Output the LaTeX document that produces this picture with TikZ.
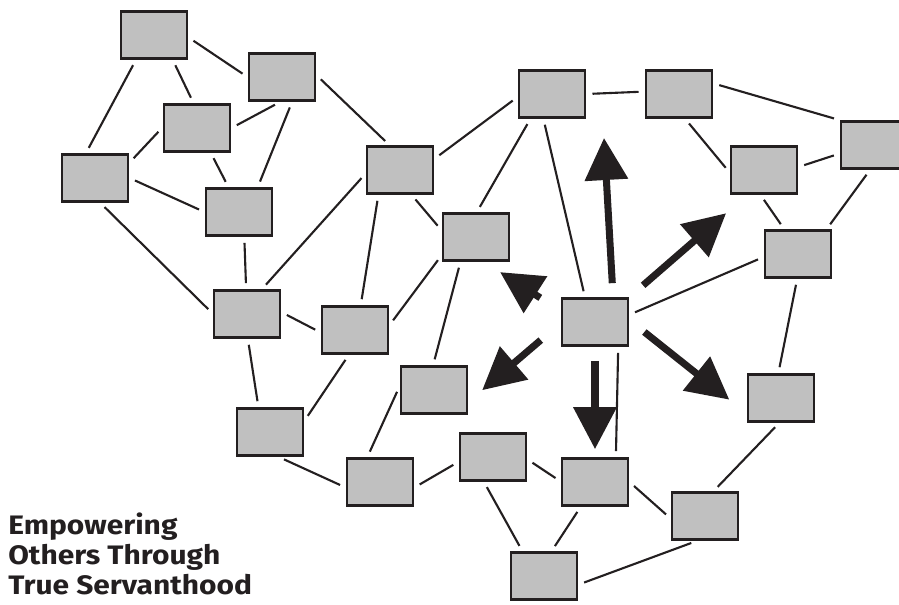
\documentclass[tikz,border=0pt]{standalone}
\usepackage{fontspec}
\usetikzlibrary{arrows.meta}
\newfontfamily\titlefont{Fira Sans}[FakeStretch=1.12]
\definecolor{boxgray}{HTML}{C0C0C0}
\definecolor{ink}{HTML}{231F20}

\begin{document}
\begin{tikzpicture}[x=0.025cm,y=-0.025cm,
    box/.style={draw=ink,fill=boxgray,line width=2.1pt,minimum width=1.65cm,minimum height=1.17cm,inner sep=0pt},
    wire/.style={draw=ink,line width=1.5pt,shorten <=0.15cm,shorten >=0.15cm},
    bigarrow/.style={draw=ink,line width=5pt,-{Triangle[length=1.05cm,width=1.05cm]}}]
            \useasboundingbox (0,0) rectangle (899,604);
            \node [box] (n1) at (154,35) {};
            \node [box] (n2) at (282,77) {};
            \node [box] (n3) at (197,128) {};
            \node [box] (n4) at (95,178) {};
            \node [box] (n5) at (239,212) {};
            \node [box] (n6) at (400,170) {};
            \node [box] (n7) at (247,314) {};
            \node [box] (n8) at (552,94) {};
            \node [box] (n9) at (679,94) {};
            \node [box] (n10) at (874,145) {};
            \node [box] (n11) at (764,170) {};
            \node [box] (n12) at (798,254) {};
            \node [box] (n13) at (476,237) {};
            \node [box] (hub) at (595,322) {};
            \node [box] (n14) at (355,330) {};
            \node [box] (n15) at (434,390) {};
            \node [box] (n16) at (270,432) {};
            \node [box] (n17) at (493,457) {};
            \node [box] (n18) at (380,482) {};
            \node [box] (n19) at (595,482) {};
            \node [box] (n20) at (544,576) {};
            \node [box] (n21) at (781,398) {};
            \node [box] (n22) at (705,516) {};
            \coordinate (upTip) at (604,138);
            \draw [wire] (n1.-4) -- (n2.180);
            \draw [wire] (n1.234) -- (n4.110);
            \draw [wire] (n1.-53) -- (n3.98);
            \draw [wire] (n2.-94) -- (n3.0);
            \draw [wire] (n2.-68) -- (n5.53);
            \draw [wire] (n2.3) -- (n6.113);
            \draw [wire] (n3.179) -- (n4.24);
            \draw [wire] (n3.-61) -- (n5.113);
            \draw [wire] (n4.0) -- (n5.180);
            \draw [wire] (n4.-78) -- (n7.179);
            \draw [wire] (n5.-78) -- (n7.92);
            \draw [wire] (n6.186) -- (n7.59);
            \draw [wire] (n6.-131) -- (n14.77);
            \draw [wire] (n6.-65) -- (n13.169);
            \draw [wire] (n6.18) -- (n8.185);
            \draw [wire] (n13.208) -- (n14.8);
            \draw [wire] (n8.0) -- (n9.176);
            \draw [wire] (n8.-131) -- (n13.88);
            \draw [wire] (n8.-109) -- (hub.112);
            \draw [wire] (n9.17) -- (n10.144);
            \draw [wire] (n9.-76) -- (n11.184);
            \draw [wire] (n10.194) -- (n11.5);
            \draw [wire] (n10.-99) -- (n12.41);
            \draw [wire] (n11.-98) -- (n12.119);
            \draw [wire] (n12.185) -- (hub.12);
            \draw [wire] (n12.-92) -- (n21.96);
            \draw [wire] (n13.-122) -- (n15.92);
            \draw [wire] (n7.3) -- (n14.184);
            \draw [wire] (n7.-88) -- (n16.115);
            \draw [wire] (n14.-104) -- (n16.18);
            \draw [wire] (n15.174) -- (n18.117);
            \draw [wire] (n16.-71) -- (n18.189);
            \draw [wire] (n18.-9) -- (n17.188);
            \draw [wire] (n17.-4) -- (n19.179);
            \draw [wire] (n17.-110) -- (n20.131);
            \draw [wire] (n19.-120) -- (n20.73);
            \draw [wire] (hub.-47) -- (n19.50);
            \draw [wire] (n19.0) -- (n22.184);
            \draw [wire] (n20.-14) -- (n22.-108);
            \draw [wire] (n21.-94) -- (n22.71);
            \draw [bigarrow,shorten <=0.35cm] (hub.54) -- (upTip);
            \draw [bigarrow,shorten <=0.45cm,shorten >=0.7cm] (hub.north east) -- (n11.-124);
            \draw [bigarrow,shorten <=0.475cm,shorten >=0.55cm] (hub.3) -- (n21.204);
            \draw [bigarrow,shorten <=0.35cm,shorten >=0.2cm] (hub.south) -- (n19.north);
            \draw [bigarrow,shorten <=0.65cm,shorten >=0.45cm] (hub.182) -- (n15.-19);
            \draw [bigarrow,shorten <=0.6cm,shorten >=0.475cm] (hub.162) -- (n13.-72);
            \node [anchor=north west,inner sep=0pt,align=left,text=ink,
                   font=\titlefont\bfseries\fontsize{19}{21}\selectfont] (title) at (8,513)
                {Empowering\\Others Through\\True Servanthood};
        \end{tikzpicture}
\end{document}
